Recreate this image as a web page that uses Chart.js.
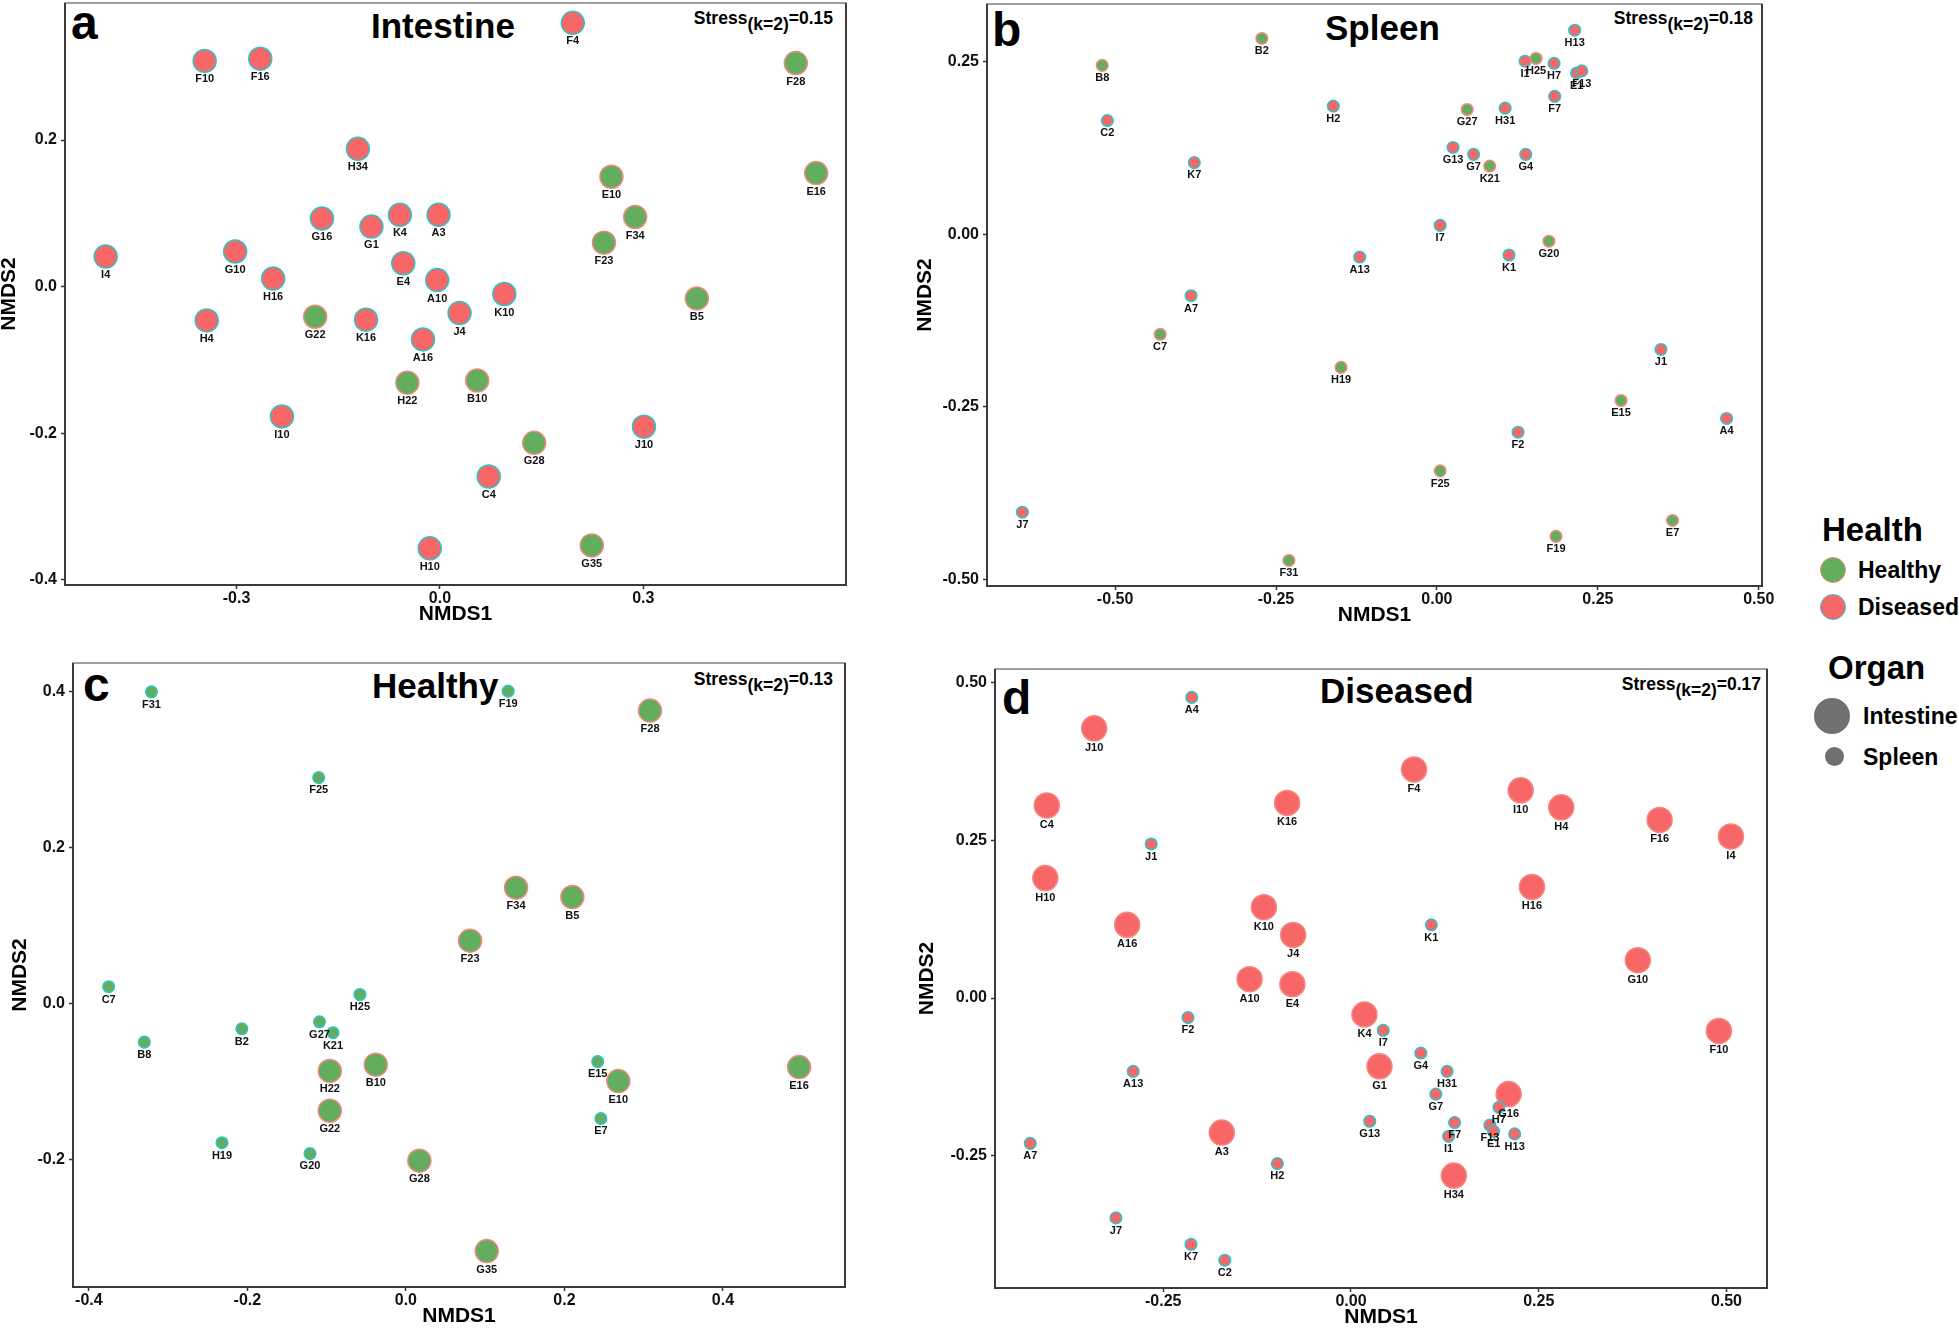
<!DOCTYPE html>
<html>
<head>
<meta charset="utf-8">
<script src="https://cdn.jsdelivr.net/npm/chart.js@4.4.0/dist/chart.umd.min.js"></script>
<style>
  body { margin: 0; background: #fff; width: 1959px; height: 1338px; position: relative; overflow: hidden;
         font-family: 'Liberation Sans', Arial, sans-serif; }
  canvas { position: absolute; }
  .txt { position: absolute; font-weight: bold; line-height: 1; white-space: nowrap; color: #000; }
  .letter { font-size: 48px; }
  .title { font-size: 35px; }
  .stress { font-size: 17.5px; }
  .stress sub { font-size: inherit; vertical-align: -6px; line-height: 0; }
  .legtitle { font-size: 33px; }
  .legitem { font-size: 23px; }
  .dot { position: absolute; border-radius: 50%; box-sizing: border-box; }
</style>
</head>
<body>

<!-- panel letters and titles -->
<div class="txt letter" style="left:71px; top:-1px;">a</div>
<div class="txt title" style="left:371px; top:8px;">Intestine</div>
<div class="txt stress" style="right:1126px; top:10px;">Stress<sub>(k=2)</sub>=0.15</div>

<div class="txt letter" style="left:992px; top:6px;">b</div>
<div class="txt title" style="left:1325px; top:10px;">Spleen</div>
<div class="txt stress" style="right:206px; top:10px;">Stress<sub>(k=2)</sub>=0.18</div>

<div class="txt letter" style="left:83px; top:661px;">c</div>
<div class="txt title" style="left:372px; top:668px;">Healthy</div>
<div class="txt stress" style="right:1126px; top:671px;">Stress<sub>(k=2)</sub>=0.13</div>

<div class="txt letter" style="left:1002px; top:674px;">d</div>
<div class="txt title" style="left:1320px; top:673px;">Diseased</div>
<div class="txt stress" style="right:198px; top:676px;">Stress<sub>(k=2)</sub>=0.17</div>

<!-- legends -->
<div class="txt legtitle" style="left:1822px; top:513px;">Health</div>
<div class="dot" style="left:1820px; top:557px; width:26px; height:26px; background:#62AE5E; border:1.5px solid #F4877F;"></div>
<div class="txt legitem" style="left:1858px; top:559px;">Healthy</div>
<div class="dot" style="left:1820px; top:594px; width:26px; height:26px; background:#F76767; border:1.5px solid #2EC4C9;"></div>
<div class="txt legitem" style="left:1858px; top:596px;">Diseased</div>

<div class="txt legtitle" style="left:1828px; top:651px;">Organ</div>
<div class="dot" style="left:1814px; top:698px; width:36px; height:36px; background:#707070;"></div>
<div class="txt legitem" style="left:1863px; top:705px;">Intestine</div>
<div class="dot" style="left:1825px; top:747px; width:19px; height:19px; background:#707070;"></div>
<div class="txt legitem" style="left:1863px; top:746px;">Spleen</div>

<script>
// ---- panel a: Intestine ----
const intestineNames = ['F10','F16','F4','F28','H34','E10','E16','G16','G1','K4','A3','F34','I4','G10','E4','F23','H16',
  'A10','K10','B5','H4','G22','K16','J4','A16','H22','B10','I10','J10','G28','C4','G35','H10'];
const intestineX = [-0.347,-0.265,0.196,0.525,-0.121,0.253,0.555,-0.174,-0.101,-0.059,-0.002,0.288,-0.493,-0.302,-0.054,0.242,-0.246,
  -0.004,0.095,0.379,-0.344,-0.184,-0.109,0.029,-0.025,-0.048,0.055,-0.233,0.301,0.139,0.072,0.224,-0.015];
const intestineY = [0.308,0.311,0.360,0.305,0.188,0.150,0.155,0.093,0.082,0.098,0.098,0.095,0.041,0.048,0.032,0.060,0.011,
  0.009,-0.010,-0.016,-0.046,-0.041,-0.045,-0.036,-0.072,-0.131,-0.128,-0.177,-0.191,-0.213,-0.259,-0.353,-0.357];
const intestineHealth = ['Diseased','Diseased','Diseased','Healthy','Diseased','Healthy','Healthy','Diseased','Diseased','Diseased',
  'Diseased','Healthy','Diseased','Diseased','Diseased','Healthy','Diseased','Diseased','Diseased','Healthy','Diseased','Healthy',
  'Diseased','Diseased','Diseased','Healthy','Healthy','Diseased','Diseased','Healthy','Diseased','Healthy','Diseased'];
const intestineXTicks = [-0.3, 0, 0.3];
const intestineYTicks = [-0.4, -0.2, 0, 0.2];

// ---- panel b: Spleen ----
const spleenNames = ['B8','B2','H13','I1','H25','H7','E1','F13','C2','H2','G27','H31','F7','G13','G7','K21','G4','K7','I7',
  'G20','K1','A13','A7','C7','H19','J1','E15','A4','F2','F25','J7','E7','F19','F31'];
const spleenX = [-0.520,-0.272,0.214,0.137,0.154,0.182,0.217,0.225,-0.512,-0.161,0.047,0.106,0.183,0.025,0.057,0.082,0.138,-0.377,0.005,
  0.174,0.112,-0.120,-0.382,-0.430,-0.149,0.348,0.286,0.450,0.126,0.005,-0.644,0.366,0.185,-0.230];
const spleenY = [0.245,0.284,0.296,0.251,0.255,0.248,0.234,0.237,0.165,0.186,0.181,0.183,0.200,0.126,0.116,0.099,0.116,0.104,0.013,
  -0.010,-0.030,-0.033,-0.089,-0.145,-0.193,-0.167,-0.241,-0.267,-0.287,-0.343,-0.403,-0.415,-0.438,-0.473];
const spleenHealth = ['Healthy','Healthy','Diseased','Diseased','Healthy','Diseased','Diseased','Diseased','Diseased','Diseased',
  'Healthy','Diseased','Diseased','Diseased','Diseased','Healthy','Diseased','Diseased','Diseased','Healthy','Diseased','Diseased',
  'Diseased','Healthy','Healthy','Diseased','Healthy','Diseased','Diseased','Healthy','Diseased','Healthy','Healthy','Healthy'];
const spleenXTicks = [-0.5, -0.25, 0, 0.25, 0.5];
const spleenYTicks = [-0.5, -0.25, 0, 0.25];

// ---- panel c: Healthy ----
const healthyNames = ['F31','F19','F28','F25','F34','B5','F23','C7','H25','G27','K21','B2','B8','H22','B10','E15','E10','E16',
  'G22','E7','H19','G20','G28','G35'];
const healthyX = [-0.321,0.129,0.308,-0.110,0.139,0.210,0.081,-0.375,-0.058,-0.109,-0.092,-0.207,-0.330,-0.096,-0.038,0.242,0.268,0.496,
  -0.096,0.246,-0.232,-0.121,0.017,0.102];
const healthyY = [0.400,0.401,0.376,0.290,0.149,0.137,0.081,0.022,0.012,-0.023,-0.037,-0.032,-0.049,-0.086,-0.078,-0.074,-0.099,-0.081,
  -0.137,-0.147,-0.178,-0.192,-0.201,-0.317];
const healthyOrgan = ['Spleen','Spleen','Intestine','Spleen','Intestine','Intestine','Intestine','Spleen','Spleen','Spleen','Spleen',
  'Spleen','Spleen','Intestine','Intestine','Spleen','Intestine','Intestine','Intestine','Spleen','Spleen','Spleen','Intestine','Intestine'];
const healthyXTicks = [-0.4, -0.2, 0, 0.2, 0.4];
const healthyYTicks = [-0.2, 0, 0.2, 0.4];

// ---- panel d: Diseased ----
const diseasedNames = ['A4','J10','F4','C4','K16','I10','H4','F16','I4','J1','H10','H16','K10','A16','J4','K1','G10','A10','E4',
  'F10','F2','K4','I7','G1','G4','A13','H31','G7','G16','H7','F7','F13','E1','G13','I1','H13','A3','A7','H2','H34','J7','K7','C2'];
const diseasedX = [-0.212,-0.342,0.084,-0.405,-0.085,0.226,0.280,0.411,0.506,-0.266,-0.407,0.241,-0.116,-0.298,-0.077,0.107,0.382,-0.135,-0.078,
  0.490,-0.217,0.018,0.043,0.038,0.093,-0.290,0.128,0.113,0.210,0.197,0.138,0.185,0.190,0.025,0.130,0.218,-0.172,-0.427,-0.098,0.137,-0.313,-0.213,-0.168];
const diseasedY = [0.476,0.427,0.362,0.305,0.309,0.329,0.302,0.282,0.256,0.244,0.190,0.176,0.144,0.116,0.100,0.116,0.060,0.030,0.022,
  -0.052,-0.031,-0.026,-0.051,-0.108,-0.087,-0.116,-0.116,-0.152,-0.152,-0.173,-0.197,-0.201,-0.211,-0.195,-0.219,-0.215,-0.213,-0.230,-0.262,-0.281,-0.348,-0.390,-0.415];
const diseasedOrgan = ['Spleen','Intestine','Intestine','Intestine','Intestine','Intestine','Intestine','Intestine','Intestine','Spleen',
  'Intestine','Intestine','Intestine','Intestine','Intestine','Spleen','Intestine','Intestine','Intestine','Intestine','Spleen','Intestine',
  'Spleen','Intestine','Spleen','Spleen','Spleen','Spleen','Intestine','Spleen','Spleen','Spleen','Spleen','Spleen','Spleen','Spleen',
  'Intestine','Spleen','Spleen','Intestine','Spleen','Spleen','Spleen'];
const diseasedXTicks = [-0.25, 0, 0.25, 0.5];
const diseasedYTicks = [-0.25, 0, 0.25, 0.5];

const GREEN = '#62AE5E';
const RED = '#F76767';
const SALMON = '#F4877F';
const CYAN = '#2EC4C9';

Chart.defaults.font.family = "'Liberation Sans', Arial, sans-serif";

// draws the sample name under each point
const pointLabels = {
  id: 'pointLabels',
  afterDatasetsDraw(chart) {
    const ctx = chart.ctx;
    const names = chart.data.datasets[0].names;
    ctx.save();
    ctx.font = "bold 11px 'Liberation Sans', Arial, sans-serif";
    ctx.fillStyle = '#111';
    ctx.textAlign = 'center';
    ctx.textBaseline = 'middle';
    chart.getDatasetMeta(0).data.forEach((pt, i) => {
      ctx.fillText(names[i], pt.x, pt.y + pt.options.radius + 7);
    });
    ctx.restore();
  }
};

// panel border
const frame = {
  id: 'frame',
  afterDraw(chart) {
    const { ctx, chartArea: a } = chart;
    ctx.save();
    ctx.strokeStyle = '#808080';
    ctx.lineWidth = 1.5;
    ctx.strokeRect(a.left, a.top, a.right - a.left, a.bottom - a.top);
    ctx.strokeStyle = '#3a3a3a';
    ctx.lineWidth = 2;
    ctx.beginPath();
    ctx.moveTo(a.left, a.top);
    ctx.lineTo(a.left, a.bottom);
    ctx.lineTo(a.right, a.bottom);
    ctx.lineTo(a.right, a.top);
    ctx.stroke();
    ctx.restore();
  }
};

function makePanel(p) {
  const [L, T, R, B] = p.box;
  // generous top/right padding so tick-label overhang never shrinks the plot
  const padTop = 14, padRight = 30, xH = 42;
  const w = p.yW + (R - L) + padRight;
  const h = padTop + (B - T) + xH;
  const canvas = document.createElement('canvas');
  canvas.width = w;
  canvas.height = h;
  canvas.style.left = (L - p.yW) + 'px';
  canvas.style.top = (T - padTop) + 'px';
  canvas.style.width = w + 'px';
  canvas.style.height = h + 'px';
  document.body.appendChild(canvas);

  const points = p.x.map((v, i) => ({ x: v, y: p.y[i] }));

  const axis = (range, ticks, titleText, isX) => ({
    type: 'linear',
    position: isX ? 'bottom' : 'left',
    min: range[0],
    max: range[1],
    afterBuildTicks: s => { s.ticks = ticks.map(v => ({ value: v })); },
    afterFit: s => { if (isX) s.height = xH; else s.width = p.yW; },
    grid: { drawOnChartArea: false, drawTicks: true, tickLength: 4, tickColor: '#333', tickWidth: 1.5 },
    border: { display: false },
    ticks: {
      padding: isX ? 0 : 4,
      color: '#111',
      font: { size: 16, weight: 'bold' },
      callback: v => v.toFixed(p.dec)
    },
    title: { display: true, text: titleText, color: '#000', padding: 0, font: { size: 21, weight: 'bold' } }
  });

  new Chart(canvas, {
    type: 'scatter',
    data: {
      datasets: [{
        data: points,
        names: p.names,
        pointRadius: ctx => p.radius(ctx.dataIndex),
        pointBackgroundColor: ctx => p.fill(ctx.dataIndex),
        pointBorderColor: ctx => p.edge(ctx.dataIndex),
        pointBorderWidth: 1.5,
        clip: false
      }]
    },
    options: {
      responsive: false,
      animation: false,
      devicePixelRatio: 1,
      layout: { padding: { top: padTop, right: padRight, left: 0, bottom: 0 }, autoPadding: false },
      plugins: { legend: { display: false }, tooltip: { enabled: false } },
      scales: {
        x: axis(p.xr, p.xTicks, 'NMDS1', true),
        y: axis(p.yr, p.yTicks, 'NMDS2', false)
      }
    },
    plugins: [pointLabels, frame]
  });
}

const byHealth = h => h === 'Healthy' ? GREEN : RED;
const edgeHealth = h => h === 'Healthy' ? SALMON : CYAN;
const edgeOrgan = o => o === 'Intestine' ? SALMON : CYAN;

makePanel({
  names: intestineNames, x: intestineX, y: intestineY,
  fill: i => byHealth(intestineHealth[i]), edge: i => edgeHealth(intestineHealth[i]), radius: () => 11.5,
  box: [65, 3, 846, 585], xr: [-0.553, 0.599], yr: [-0.407, 0.387],
  xTicks: intestineXTicks, yTicks: intestineYTicks, dec: 1, yW: 68
});

makePanel({
  names: spleenNames, x: spleenX, y: spleenY,
  fill: i => byHealth(spleenHealth[i]), edge: i => edgeHealth(spleenHealth[i]), radius: () => 5.8,
  box: [987, 4, 1762, 586], xr: [-0.699, 0.505], yr: [-0.510, 0.334],
  xTicks: spleenXTicks, yTicks: spleenYTicks, dec: 2, yW: 74
});

makePanel({
  names: healthyNames, x: healthyX, y: healthyY,
  fill: () => GREEN, edge: i => edgeOrgan(healthyOrgan[i]),
  radius: i => healthyOrgan[i] === 'Intestine' ? 11.5 : 5.8,
  box: [73, 663, 845, 1287], xr: [-0.420, 0.554], yr: [-0.363, 0.437],
  xTicks: healthyXTicks, yTicks: healthyYTicks, dec: 1, yW: 65
});

makePanel({
  names: diseasedNames, x: diseasedX, y: diseasedY,
  fill: () => RED, edge: i => edgeOrgan(diseasedOrgan[i]),
  radius: i => diseasedOrgan[i] === 'Intestine' ? 12.5 : 5.8,
  box: [995, 669, 1767, 1288], xr: [-0.474, 0.554], yr: [-0.459, 0.521],
  xTicks: diseasedXTicks, yTicks: diseasedYTicks, dec: 2, yW: 80
});
</script>
</body>
</html>
